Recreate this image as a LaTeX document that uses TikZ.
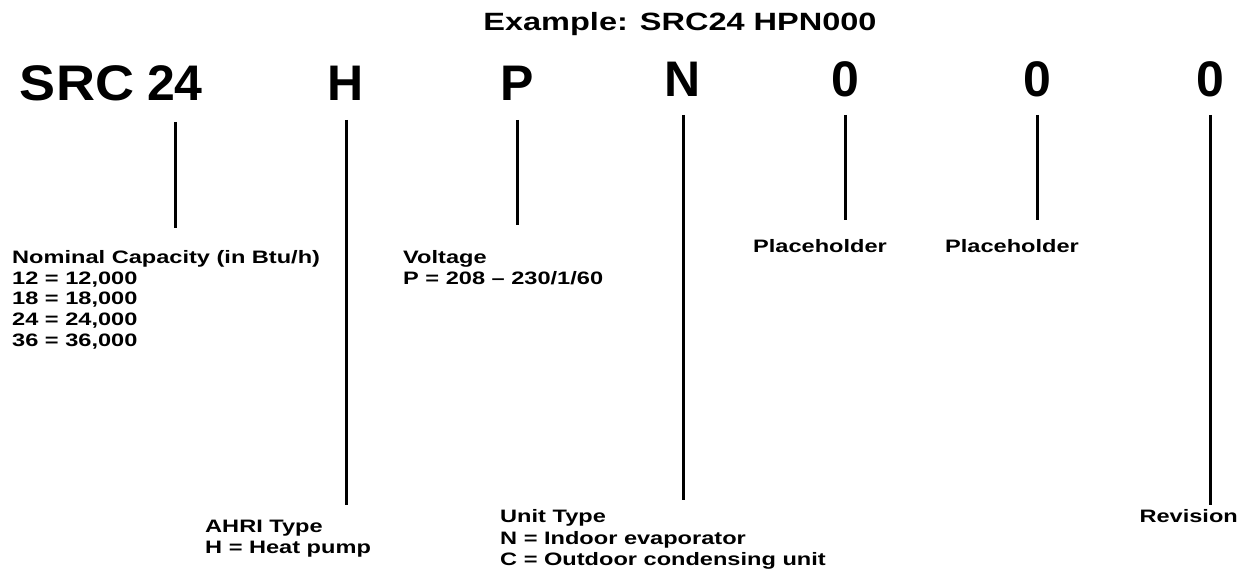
\documentclass[tikz,border=0pt]{standalone}
\usepackage{fontspec}
\setmainfont{Liberation Sans}
\newfontfamily\widesans{Liberation Sans}[FakeStretch=1.31,Ligatures=TeX]
\newfontfamily\titlesans{Liberation Sans}[FakeStretch=1.3,Ligatures=TeX]
\begin{document}
\begin{tikzpicture}[x=1pt,y=-1pt,
  big/.style={font=\fontsize{50}{50}\selectfont\bfseries, inner sep=0, anchor=base},
  lbl/.style={font=\widesans\fontsize{18}{20.8}\selectfont\bfseries, inner sep=0, align=left},
  lblb/.style={font=\widesans\fontsize{18}{21.8}\selectfont\bfseries, inner sep=0, align=left},
  conn/.style={line width=3pt}]
\useasboundingbox (0,0) rectangle (1246,588);
\node[font=\titlesans\fontsize{25}{25}\selectfont\bfseries, inner sep=0] (title) at (680,24) {Example: SRC24 HPN000};
\node[big] (src) at (77,101) {\scalebox{1.08}[1]{SRC}};
\node[big] (c24) at (175,101) {24};
\node[big] (cH) at (346,101) {H};
\node[big] (cP) at (517,101) {P};
\node[big] (cN) at (683,97) {N};
\node[big] (c0a) at (845,97) {0};
\node[big] (c0b) at (1037,97) {0};
\node[big] (c0c) at (1210,97) {0};
\node[lbl, anchor=north west] (cap) at (12,250) {Nominal Capacity (in Btu/h)\\12 = 12,000\\18 = 18,000\\24 = 24,000\\36 = 36,000};
\node[lbl, anchor=north west] (volt) at (403,250) {Voltage\\P = 208 – 230/1/60};
\node[lbl] (ph1) at (820,246) {Placeholder};
\node[lbl] (ph2) at (1012,246) {Placeholder};
\node[lbl, anchor=north west] (ahri) at (205,520) {AHRI Type\\H = Heat pump};
\node[lblb, anchor=north west] (unit) at (500,509) {Unit Type\\N = Indoor evaporator\\C = Outdoor condensing unit};
\node[lbl, anchor=north east] (rev) at (1238,509) {Revision};
\coordinate (t1) at (175,122); \coordinate (b1) at (175,228);
\coordinate (t2) at (346,120); \coordinate (b2) at (346,505);
\coordinate (t3) at (517,120); \coordinate (b3) at (517,225);
\coordinate (t4) at (683,115); \coordinate (b4) at (683,500);
\coordinate (t5) at (845,115); \coordinate (b5) at (845,220);
\coordinate (t6) at (1037,115); \coordinate (b6) at (1037,220);
\coordinate (t7) at (1210,115); \coordinate (b7) at (1210,505);
\foreach \i in {1,...,7} \draw[conn] (t\i) -- (b\i);
\end{tikzpicture}
\end{document}
